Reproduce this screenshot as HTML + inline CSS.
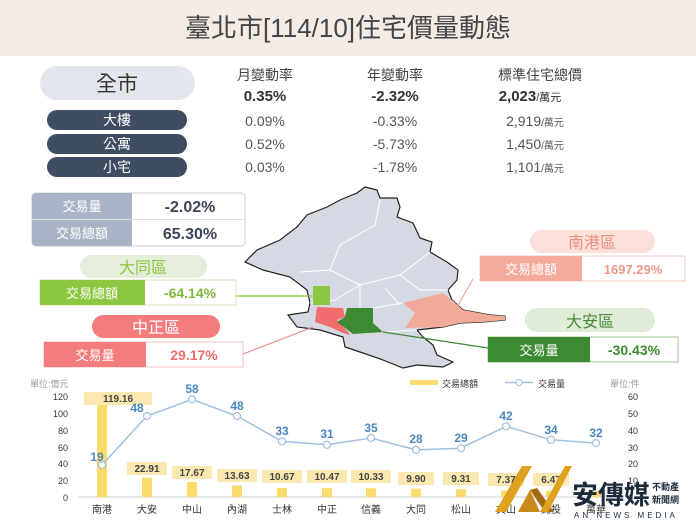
<!DOCTYPE html>
<html><head><meta charset="utf-8"><style>
html,body{margin:0;padding:0;background:#fff}
svg{display:block}
text{font-family:"Liberation Sans","Noto Sans CJK TC",sans-serif}
</style></head><body>
<svg width="696" height="522" viewBox="0 0 696 522" xmlns="http://www.w3.org/2000/svg">
<rect width="696" height="522" fill="#fff"/>
<rect width="696" height="56" fill="#f4ece4"/>
<text x="348" y="37" text-anchor="middle" font-size="26" fill="#444">臺北市[114/10]住宅價量動態</text>

<!-- top table -->
<rect x="40" y="66" width="155" height="34" rx="17" fill="#e3e6ec"/>
<text x="117" y="91" text-anchor="middle" font-size="21" fill="#333">全市</text>
<g font-size="14" fill="#444" text-anchor="middle">
<text x="265" y="80">月變動率</text><text x="395" y="80">年變動率</text><text x="540" y="80">標準住宅總價</text>
</g>
<g font-size="15" font-weight="bold" fill="#333" text-anchor="middle">
<text x="265" y="101">0.35%</text><text x="395" y="101">-2.32%</text><text x="530" y="101">2,023<tspan font-weight="normal" font-size="11">/萬元</tspan></text>
</g>
<g fill="#3f4d63">
<rect x="47" y="110" width="140" height="20" rx="10"/>
<rect x="47" y="134" width="140" height="20" rx="10"/>
<rect x="47" y="157" width="140" height="20" rx="10"/>
</g>
<g font-size="14" fill="#fff" text-anchor="middle">
<text x="117" y="125">大樓</text><text x="117" y="149">公寓</text><text x="117" y="172">小宅</text>
</g>
<g font-size="14" fill="#555" text-anchor="middle">
<text x="265" y="126">0.09%</text><text x="395" y="126">-0.33%</text><text x="535" y="126">2,919<tspan font-size="10">/萬元</tspan></text>
<text x="265" y="149">0.52%</text><text x="395" y="149">-5.73%</text><text x="535" y="149">1,450<tspan font-size="10">/萬元</tspan></text>
<text x="265" y="172">0.03%</text><text x="395" y="172">-1.78%</text><text x="535" y="172">1,101<tspan font-size="10">/萬元</tspan></text>
</g>

<!-- map -->
<path d="M365,187 L377,190 L380,198 L397,198 L400,207 L397,217 L413,223 L420,238 L432,242 L430,252 L447,262 L458,270 L457,280 L448,290 L452,300 L463,310 L490,315 L505,316 L505,320 L483,322 L460,323 L443,327 L417,330 L423,337 L433,345 L437,355 L453,362 L443,367 L417,365 L403,368 L383,360 L363,353 L345,347 L343,337 L320,330 L297,327 L288,315 L308,312 L310,303 L307,290 L290,277 L263,270 L245,262 L257,250 L280,240 L297,227 L307,215 L327,207 L340,200 L357,193 Z" fill="#d5d9e3" stroke="#222" stroke-width="1.2"/>
<g stroke="#fff" stroke-width="1" fill="none">
<path d="M380,200 L375,225 L340,245 L330,270 L300,272"/>
<path d="M330,270 L360,285 L400,275 L430,252"/>
<path d="M360,285 L335,300 L310,303"/>
<path d="M400,275 L420,290 L448,290"/>
<path d="M360,285 L360,308"/><path d="M385,288 L400,305"/>
<path d="M373,308 L403,303"/><path d="M383,332 L417,330"/>
</g>
<path d="M313,286 L330,286 L330,305 L313,305 Z" fill="#8dc63f"/>
<path d="M317,307 L343,308 L345,317 L337,320 L348,332 L350,335 L343,333 L330,327 L315,322 Z" fill="#f26d6d"/>
<path d="M347,308 L373,308 L373,323 L383,332 L367,333 L353,334 L337,322 L345,317 Z" fill="#3c8a32"/>
<path d="M403,303 L443,293 L452,300 L463,310 L490,315 L505,316 L505,320 L483,322 L460,323 L443,327 L405,328 L415,313 Z" fill="#f2aa98"/>

<!-- leader lines -->
<line x1="236" y1="296" x2="313" y2="296" stroke="#8dc63f" stroke-width="1.2"/>
<line x1="243" y1="354" x2="313" y2="327" stroke="#f28a8a" stroke-width="1.2"/>
<line x1="457" y1="307" x2="473" y2="279" stroke="#f2aa98" stroke-width="1.2"/>
<line x1="383" y1="332" x2="488" y2="348" stroke="#3c8a32" stroke-width="1.2"/>

<!-- summary box -->
<rect x="32" y="193" width="213" height="53" rx="4" fill="#fff" stroke="#ccc"/>
<path d="M36,193 L132,193 L132,246 L36,246 Q32,246 32,242 L32,197 Q32,193 36,193 Z" fill="#a9b3c6"/>
<line x1="32" y1="219.5" x2="245" y2="219.5" stroke="#ddd"/>
<g font-size="13" fill="#fff" text-anchor="middle"><text x="82" y="211">交易量</text><text x="82" y="238">交易總額</text></g>
<g font-size="16" font-weight="bold" fill="#3c4658" text-anchor="middle"><text x="190" y="212">-2.02%</text><text x="190" y="239">65.30%</text></g>

<!-- 大同 -->
<rect x="80" y="255" width="127" height="23" rx="11.5" fill="#e4eedb"/>
<text x="143" y="273" text-anchor="middle" font-size="16" fill="#8dc63f">大同區</text>
<rect x="40" y="280" width="196" height="25" fill="#fff" stroke="#cfe3b8"/>
<rect x="40" y="280" width="105" height="25" fill="#8dc63f"/>
<text x="92" y="298" text-anchor="middle" font-size="13" fill="#fff">交易總額</text>
<text x="190" y="298" text-anchor="middle" font-size="14" font-weight="bold" fill="#7cb83a">-64.14%</text>

<!-- 中正 -->
<rect x="92" y="315" width="128" height="23" rx="11.5" fill="#f47c7c"/>
<text x="156" y="333" text-anchor="middle" font-size="16" fill="#fff">中正區</text>
<rect x="44" y="342" width="199" height="25" fill="#fff" stroke="#f6c3c3"/>
<rect x="44" y="342" width="102" height="25" fill="#f47c7c"/>
<text x="95" y="360" text-anchor="middle" font-size="13" fill="#fff">交易量</text>
<text x="194" y="360" text-anchor="middle" font-size="14" font-weight="bold" fill="#f06a6a">29.17%</text>

<!-- 南港 -->
<rect x="530" y="230" width="125" height="23" rx="11.5" fill="#fbe0da"/>
<text x="592" y="248" text-anchor="middle" font-size="16" fill="#e8907e">南港區</text>
<rect x="480" y="256" width="205" height="25" fill="#fff" stroke="#f6cfc6"/>
<rect x="480" y="256" width="102" height="25" fill="#f4ab9b"/>
<text x="531" y="274" text-anchor="middle" font-size="13" fill="#fff">交易總額</text>
<text x="633" y="274" text-anchor="middle" font-size="13" font-weight="bold" fill="#ec9a88">1697.29%</text>

<!-- 大安 -->
<rect x="525" y="308" width="130" height="24" rx="12" fill="#dfecd8"/>
<text x="590" y="327" text-anchor="middle" font-size="16" fill="#4a8a3a">大安區</text>
<rect x="488" y="337" width="190" height="25" fill="#fff" stroke="#9cc490"/>
<rect x="488" y="337" width="102" height="25" fill="#3c8a32"/>
<text x="539" y="355" text-anchor="middle" font-size="13" fill="#fff">交易量</text>
<text x="634" y="355" text-anchor="middle" font-size="14" font-weight="bold" fill="#3c8a32">-30.43%</text>

<!-- chart -->
<g font-size="9" fill="#999"><text x="30" y="387">單位:億元</text><text x="610" y="387">單位:件</text></g>
<g font-size="9" fill="#333" text-anchor="end">
<text x="68" y="400">120</text>
<text x="68" y="417">100</text><text x="68" y="434">80</text><text x="68" y="451">60</text>
<text x="68" y="467">40</text><text x="68" y="484">20</text><text x="68" y="501">0</text>
</g>
<g font-size="9" fill="#333">
<text x="628" y="400">60</text><text x="628" y="417">50</text><text x="628" y="434">40</text><text x="628" y="451">30</text>
<text x="628" y="467">20</text><text x="628" y="484">10</text><text x="628" y="501">0</text>
</g>
<line x1="78" y1="497" x2="618" y2="497" stroke="#ccc"/>
<rect x="410" y="380" width="28" height="5" fill="#fbdc6a"/>
<text x="442" y="387" font-size="9" fill="#333">交易總額</text>
<line x1="505" y1="382.5" x2="533" y2="382.5" stroke="#9fc0df" stroke-width="1.5"/>
<circle cx="519" cy="382.5" r="3" fill="#fff" stroke="#9fc0df"/>
<text x="538" y="387" font-size="9" fill="#333">交易量</text>

<g fill="#fbdc6a">
<rect x="97" y="396.7" width="10" height="100.3"/>
<rect x="142" y="477.7" width="10" height="19.3"/>
<rect x="187" y="482.1" width="10" height="14.9"/>
<rect x="232" y="485.5" width="10" height="11.5"/>
<rect x="277" y="488" width="10" height="9"/>
<rect x="322" y="488.2" width="10" height="8.8"/>
<rect x="366" y="488.3" width="10" height="8.7"/>
<rect x="411" y="488.7" width="10" height="8.3"/>
<rect x="456" y="489.2" width="10" height="7.8"/>
<rect x="501" y="490.5" width="10" height="6.5"/>
<rect x="546" y="490.7" width="10" height="6.3"/>
<rect x="591" y="491" width="10" height="6"/>
</g>
<g fill="#fbe8b0">
<rect x="84" y="392" width="68" height="13"/>
<rect x="127" y="462" width="40" height="13"/>
<rect x="172" y="466" width="40" height="13"/>
<rect x="217" y="469" width="40" height="13"/>
<rect x="262" y="470" width="40" height="13"/>
<rect x="307" y="470" width="40" height="13"/>
<rect x="351" y="470" width="40" height="13"/>
<rect x="398" y="472" width="36" height="13"/>
<rect x="443" y="472" width="36" height="13"/>
<rect x="488" y="473" width="36" height="13"/>
<rect x="533" y="473" width="36" height="13"/>
</g>
<g font-size="10" font-weight="bold" fill="#444" text-anchor="middle">
<text x="118" y="402">119.16</text><text x="147" y="472">22.91</text><text x="192" y="476">17.67</text>
<text x="237" y="479">13.63</text><text x="282" y="480">10.67</text><text x="327" y="480">10.47</text>
<text x="371" y="480">10.33</text><text x="416" y="482">9.90</text><text x="461" y="482">9.31</text>
<text x="506" y="483">7.37</text><text x="551" y="483">6.47</text>
</g>
<polyline points="102,465 147,416 192,399.4 237,416 282,441.4 327,444.8 371,438 416,449.9 461,448.2 506,426.3 551,439.8 596,443.1" fill="none" stroke="#9fc0df" stroke-width="1.5"/>
<g fill="#fff" stroke="#9fc0df" stroke-width="1.2">
<circle cx="102" cy="465" r="3.5"/><circle cx="147" cy="416" r="3.5"/><circle cx="192" cy="399.4" r="3.5"/>
<circle cx="237" cy="416" r="3.5"/><circle cx="282" cy="441.4" r="3.5"/><circle cx="327" cy="444.8" r="3.5"/>
<circle cx="371" cy="438" r="3.5"/><circle cx="416" cy="449.9" r="3.5"/><circle cx="461" cy="448.2" r="3.5"/>
<circle cx="506" cy="426.3" r="3.5"/><circle cx="551" cy="439.8" r="3.5"/><circle cx="596" cy="443.1" r="3.5"/>
</g>
<g font-size="12" font-weight="bold" fill="#4a86c0" text-anchor="middle">
<text x="97" y="461">19</text><text x="137" y="412">48</text><text x="192" y="393">58</text>
<text x="237" y="410">48</text><text x="282" y="435">33</text><text x="327" y="438">31</text>
<text x="371" y="432">35</text><text x="416" y="443">28</text><text x="461" y="442">29</text>
<text x="506" y="420">42</text><text x="551" y="434">34</text><text x="596" y="437">32</text>
</g>
<g font-size="10" fill="#333" text-anchor="middle">
<text x="102" y="513">南港</text><text x="147" y="513">大安</text><text x="192" y="513">中山</text>
<text x="237" y="513">內湖</text><text x="282" y="513">士林</text><text x="327" y="513">中正</text>
<text x="371" y="513">信義</text><text x="416" y="513">大同</text><text x="461" y="513">松山</text>
<text x="506" y="513">文山</text><text x="551" y="513">北投</text><text x="596" y="513">萬華</text>
</g>

<!-- logo -->
<path d="M495,512 L522,466 L532,466 L506,512 Z" fill="#e0a020"/>
<path d="M518,512 L530,490 L540,512 Z" fill="#c88a18"/>
<path d="M530,490 L545,512 L554,512 L537,488 Z" fill="#a86a10"/>
<path d="M540,512 L565,466 L572,466 L548,512 Z" fill="#e0a020"/>
<text x="572" y="504" font-size="26" font-weight="bold" fill="#1a2a3a">安傳媒</text>
<text x="652" y="490" font-size="9" font-weight="bold" fill="#1a2a3a">不動產</text>
<text x="652" y="503" font-size="9" font-weight="bold" fill="#1a2a3a">新聞網</text>
<text x="574" y="518" font-size="8" fill="#1a2a3a" letter-spacing="3">AN NEWS MEDIA</text>
</svg>
</body></html>
